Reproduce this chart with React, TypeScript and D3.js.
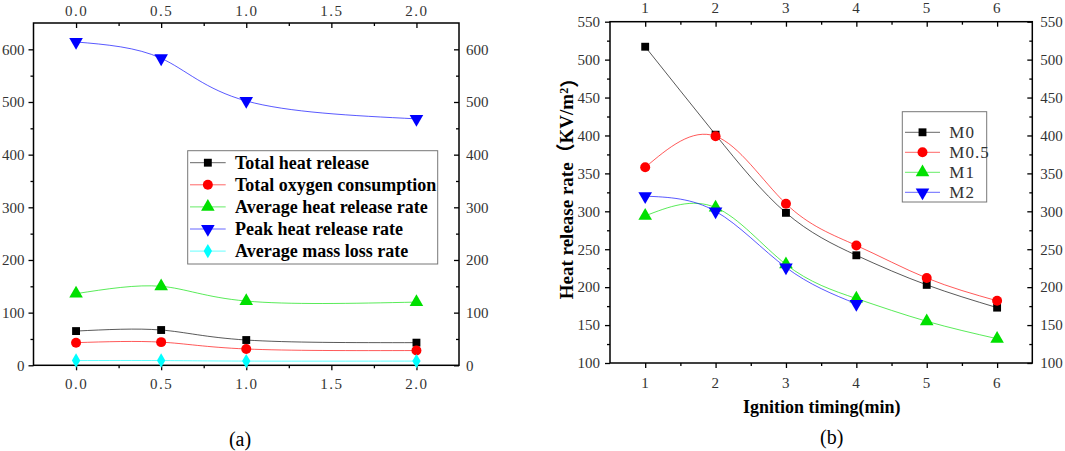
import { useEffect, useRef } from "react";
import * as d3 from "d3";

// panel (a)
const xA = [0, 0.5, 1, 2];
const totalHeatRelease = [65, 67, 48, 43];
const totalOxygen = [43, 44, 31, 28];
const avgHeatReleaseRate = [136, 150, 122, 120];
const peakHeatReleaseRate = [614, 583, 502, 468];
const avgMassLossRate = [9, 9, 8, 8];
const xATicks = [0, 0.5, 1, 1.5, 2];
const yATicks = [0, 100, 200, 300, 400, 500, 600];

// panel (b)
const xB = [1, 2, 3, 4, 5, 6];
const m0 = [517, 401, 298, 242, 203, 173];
const m05 = [358, 399, 310, 255, 212, 182];
const m1 = [294, 305, 230, 185, 155, 132];
const m2 = [320, 300, 226, 178];
const xBTicks = [1, 2, 3, 4, 5, 6];
const yBTicks = [100, 150, 200, 250, 300, 350, 400, 450, 500, 550];

type Marker = "square" | "circle" | "triangle" | "down" | "diamond";
type Series = { name: string; color: string; marker: Marker; x: number[]; y: number[] };

const seriesA: Series[] = [
  { name: "Total heat release", color: "#000000", marker: "square", x: xA, y: totalHeatRelease },
  { name: "Total oxygen consumption", color: "#ff0000", marker: "circle", x: xA, y: totalOxygen },
  { name: "Average heat release rate", color: "#00e000", marker: "triangle", x: xA, y: avgHeatReleaseRate },
  { name: "Peak heat release rate", color: "#0000ff", marker: "down", x: xA, y: peakHeatReleaseRate },
  { name: "Average mass loss rate", color: "#00ffff", marker: "diamond", x: xA, y: avgMassLossRate },
];

const seriesB: Series[] = [
  { name: "M0", color: "#000000", marker: "square", x: xB, y: m0 },
  { name: "M0.5", color: "#ff0000", marker: "circle", x: xB, y: m05 },
  { name: "M1", color: "#00e000", marker: "triangle", x: xB, y: m1 },
  { name: "M2", color: "#0000ff", marker: "down", x: xB.slice(0, m2.length), y: m2 },
];

const serif = "'Liberation Serif', 'Times New Roman', serif";

function markerPath(m: Marker) {
  const sym = {
    square: d3.symbol(d3.symbolSquare, 62),
    circle: d3.symbol(d3.symbolCircle, 78),
    triangle: d3.symbol(d3.symbolTriangle, 80),
    down: d3.symbol(d3.symbolTriangle, 80),
    diamond: d3.symbol(d3.symbolDiamond, 60),
  }[m];
  return sym() as string;
}

function drawMarker(g: d3.Selection<SVGGElement, unknown, null, undefined>, m: Marker, color: string, x: number, y: number) {
  g.append("path")
    .attr("d", markerPath(m))
    .attr("fill", color)
    .attr("transform", `translate(${x},${y})${m === "down" ? " rotate(180)" : ""}`);
}

type PanelOpts = {
  left: number;
  right: number;
  top: number;
  bottom: number;
  xDomain: [number, number];
  yDomain: [number, number];
  xTicks: number[];
  xMinor: number[];
  yTicks: number[];
  yMinor: number[];
  xFmt: (d: number) => string;
  pad: { top: number; bottom: number; left: number; right: number };
  series: Series[];
};

function drawPanel(svg: d3.Selection<SVGSVGElement, unknown, null, undefined>, o: PanelOpts) {
  const x = d3.scaleLinear().domain(o.xDomain).range([o.left, o.right]);
  const y = d3.scaleLinear().domain(o.yDomain).range([o.bottom, o.top]);
  const g = svg.append("g");

  const styleAxis = (sel: d3.Selection<SVGGElement, unknown, null, undefined>) => {
    sel.select(".domain").remove();
    sel.selectAll("line").attr("stroke", "#000").attr("stroke-width", 1.3);
    sel
      .selectAll("text")
      .attr("fill", "#333")
      .style("font-family", serif)
      .style("font-size", "15px");
  };

  // bottom
  g.append("g")
    .attr("transform", `translate(0,${o.bottom})`)
    .call(d3.axisBottom(x).tickValues(o.xTicks).tickSize(5).tickPadding(o.pad.bottom).tickFormat((d) => o.xFmt(d as number)))
    .call(styleAxis)
    .selectAll("text")
    .style("letter-spacing", "1.5px");
  g.append("g")
    .attr("transform", `translate(0,${o.bottom})`)
    .call(d3.axisBottom(x).tickValues(o.xMinor).tickSize(3).tickFormat(() => ""))
    .call(styleAxis);
  // top (ticks inward)
  g.append("g")
    .attr("transform", `translate(0,${o.top})`)
    .call(d3.axisTop(x).tickValues(o.xTicks).tickSize(-5).tickPadding(o.pad.top).tickFormat((d) => o.xFmt(d as number)))
    .call(styleAxis)
    .selectAll("text")
    .style("letter-spacing", "1.5px");
  g.append("g")
    .attr("transform", `translate(0,${o.top})`)
    .call(d3.axisTop(x).tickValues(o.xMinor).tickSize(-3).tickFormat(() => ""))
    .call(styleAxis);
  // left
  g.append("g")
    .attr("transform", `translate(${o.left},0)`)
    .call(d3.axisLeft(y).tickValues(o.yTicks).tickSize(5).tickPadding(o.pad.left).tickFormat(d3.format("d")))
    .call(styleAxis);
  g.append("g")
    .attr("transform", `translate(${o.left},0)`)
    .call(d3.axisLeft(y).tickValues(o.yMinor).tickSize(3).tickFormat(() => ""))
    .call(styleAxis);
  // right (ticks inward)
  g.append("g")
    .attr("transform", `translate(${o.right},0)`)
    .call(d3.axisRight(y).tickValues(o.yTicks).tickSize(-5).tickPadding(o.pad.right).tickFormat(d3.format("d")))
    .call(styleAxis);
  g.append("g")
    .attr("transform", `translate(${o.right},0)`)
    .call(d3.axisRight(y).tickValues(o.yMinor).tickSize(-3).tickFormat(() => ""))
    .call(styleAxis);

  // frame
  g.append("rect")
    .attr("x", o.left)
    .attr("y", o.top)
    .attr("width", o.right - o.left)
    .attr("height", o.bottom - o.top)
    .attr("fill", "none")
    .attr("stroke", "#000")
    .attr("stroke-width", 1.5);

  const line = d3
    .line<[number, number]>()
    .x((d) => x(d[0]))
    .y((d) => y(d[1]))
    .curve(d3.curveNatural);

  o.series.forEach((s) => {
    const pts = s.y.map((v, i) => [s.x[i], v] as [number, number]);
    g.append("path")
      .attr("d", line(pts))
      .attr("fill", "none")
      .attr("stroke", s.color)
      .attr("stroke-opacity", 0.65)
      .attr("stroke-width", 1);
  });
  o.series.forEach((s) => {
    const mg = g.append("g");
    s.y.forEach((v, i) => drawMarker(mg, s.marker, s.color, x(s.x[i]), y(v)));
  });
  return g;
}

function drawLegend(
  svg: d3.Selection<SVGSVGElement, unknown, null, undefined>,
  series: Series[],
  box: { x: number; y: number; w: number; h: number },
  row0: number,
  step: number,
  lineX: [number, number],
  textX: number,
  font: { size: number; weight: string; fill: string; spacing: string },
) {
  const g = svg.append("g");
  g.append("rect")
    .attr("x", box.x)
    .attr("y", box.y)
    .attr("width", box.w)
    .attr("height", box.h)
    .attr("fill", "#fff")
    .attr("stroke", "#777")
    .attr("stroke-width", 1);
  series.forEach((s, i) => {
    const cy = row0 + i * step;
    g.append("line")
      .attr("x1", lineX[0])
      .attr("x2", lineX[1])
      .attr("y1", cy)
      .attr("y2", cy)
      .attr("stroke", s.color)
      .attr("stroke-opacity", 0.6)
      .attr("stroke-width", 1);
    drawMarker(g, s.marker, s.color, (lineX[0] + lineX[1]) / 2, cy);
    g.append("text")
      .attr("x", textX)
      .attr("y", cy)
      .attr("dy", "0.35em")
      .attr("fill", font.fill)
      .style("font-family", serif)
      .style("font-size", `${font.size}px`)
      .style("font-weight", font.weight)
      .style("letter-spacing", font.spacing)
      .text(s.name);
  });
}

export default function App() {
  const svgRef = useRef<SVGSVGElement | null>(null);

  useEffect(() => {
    if (!svgRef.current) return;
    const svg = d3.select(svgRef.current);
    svg.selectAll("*").remove();

    // (a)
    drawPanel(svg, {
      left: 33.5,
      right: 459,
      top: 23,
      bottom: 365.3,
      xDomain: [-0.25, 2.25],
      yDomain: [0, 650],
      xTicks: xATicks,
      xMinor: [0.25, 0.75, 1.25, 1.75],
      yTicks: yATicks,
      yMinor: [50, 150, 250, 350, 450, 550],
      xFmt: d3.format(".1f"),
      pad: { top: 7, bottom: 8, left: 4, right: 7 },
      series: seriesA,
    });
    drawLegend(
      svg,
      seriesA,
      { x: 187.7, y: 150.7, w: 250, h: 113.3 },
      162.7,
      22.1,
      [190, 225.7],
      235,
      { size: 18, weight: "bold", fill: "#000", spacing: "0px" },
    );
    svg.append("text")
      .attr("x", 240)
      .attr("y", 439)
      .attr("dy", "0.35em")
      .attr("text-anchor", "middle")
      .style("font-family", serif)
      .style("font-size", "20px")
      .text("(a)");

    // (b)
    drawPanel(svg, {
      left: 610,
      right: 1032.3,
      top: 21.7,
      bottom: 363,
      xDomain: [0.5, 6.5],
      yDomain: [100, 550],
      xTicks: xBTicks,
      xMinor: [1.5, 2.5, 3.5, 4.5, 5.5],
      yTicks: yBTicks,
      yMinor: [125, 175, 225, 275, 325, 375, 425, 475, 525],
      xFmt: d3.format("d"),
      pad: { top: 9, bottom: 9, left: 5, right: 8 },
      series: seriesB,
    });
    drawLegend(
      svg,
      seriesB,
      { x: 902.3, y: 111.7, w: 84.4, h: 90.3 },
      132.3,
      20,
      [905, 940],
      949.3,
      { size: 17, weight: "normal", fill: "#333", spacing: "1px" },
    );

    const yl = svg
      .append("text")
      .attr("transform", "translate(566.7,184) rotate(-90)")
      .attr("text-anchor", "middle")
      .attr("dy", "0.35em")
      .style("font-family", "'Liberation Serif', 'Noto Sans CJK SC', serif")
      .style("font-size", "19px")
      .style("font-weight", "bold");
    yl.append("tspan").text("Heat release rate（KV/m");
    yl.append("tspan").attr("dy", "-0.45em").style("font-size", "12px").text("2");
    yl.append("tspan").attr("dy", "0.45em").text("）");

    svg.append("text")
      .attr("x", 821.7)
      .attr("y", 406.7)
      .attr("dy", "0.35em")
      .attr("text-anchor", "middle")
      .style("font-family", serif)
      .style("font-size", "18px")
      .style("font-weight", "bold")
      .text("Ignition timing(min)");

    svg.append("text")
      .attr("x", 831.7)
      .attr("y", 437.3)
      .attr("dy", "0.35em")
      .attr("text-anchor", "middle")
      .style("font-family", serif)
      .style("font-size", "20px")
      .text("(b)");
  }, []);

  return (
    <svg
      ref={svgRef}
      width={1065}
      height={451}
      style={{ position: "absolute", left: 0, top: 0, background: "#fff" }}
    />
  );
}
